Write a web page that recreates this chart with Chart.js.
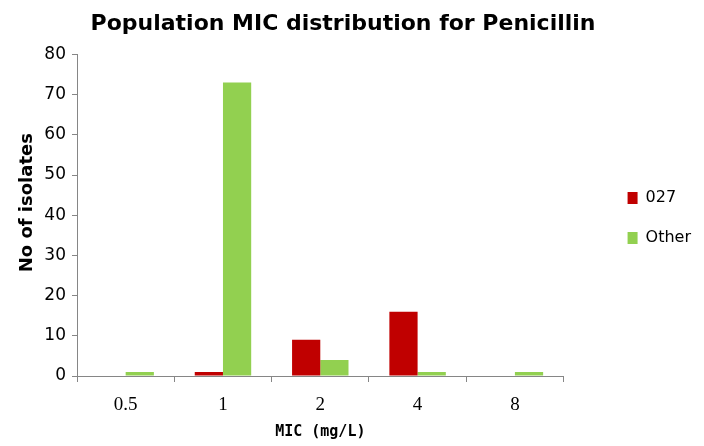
<!DOCTYPE html>
<html>
<head>
<meta charset="utf-8">
<script src="https://cdn.jsdelivr.net/npm/chart.js@4/dist/chart.umd.min.js"></script>
<style>
  html, body { margin: 0; padding: 0; background: #fff; }
  #wrap { width: 704px; height: 446px; }
</style>
</head>
<body>
<div id="wrap"><canvas id="mic"></canvas></div>
<script>
// MIC categories (mg/L) and isolate counts per group
const micLabels = ['0.5', '1', '2', '4', '8'];
const ribotype027 = [0, 1, 9, 16, 0];
const otherIsolates = [1, 73, 4, 1, 1];
const yTicks = [0, 10, 20, 30, 40, 50, 60, 70, 80];

const axisGrey = '#868686';

// title sits a little left of centre, legend a little higher than centred
const nudge = {
  id: 'nudge',
  afterLayout(chart) {
    if (chart.titleBlock) {
      chart.titleBlock.left -= 18;
    }
    if (chart.legend) {
      chart.legend.top -= 5;
      chart.legend.bottom -= 5;
      chart.legend.left -= 3;
      chart.legend.right -= 3;
    }
  }
};

new Chart(document.getElementById('mic'), {
  type: 'bar',
  data: {
    labels: micLabels,
    datasets: [
      { label: '027', data: ribotype027, backgroundColor: '#C00000', yAxisID: 'y' },
      { label: 'Other', data: otherIsolates, backgroundColor: '#92D050', yAxisID: 'y' }
    ]
  },
  options: {
    responsive: true,
    maintainAspectRatio: false,
    animation: false,
    layout: { padding: { left: 0, right: 0, top: 0, bottom: 0 } },
    datasets: {
      bar: { barPercentage: 1, categoryPercentage: 0.58 }
    },
    plugins: {
      title: {
        display: true,
        text: 'Population MIC distribution for Penicillin',
        color: '#000',
        font: { family: 'DejaVu Sans', weight: 'bold', size: 22 },
        padding: { top: 11, bottom: 17 }
      },
      legend: {
        position: 'right',
        labels: {
          boxWidth: 10,
          boxHeight: 12,
          padding: 24,
          color: '#000',
          font: { family: 'DejaVu Sans', size: 16 }
        }
      },
      tooltip: { enabled: false }
    },
    scales: {
      x: {
        grid: { display: true, drawOnChartArea: false, offset: true, color: axisGrey, tickLength: 6 },
        border: { color: axisGrey },
        ticks: { color: '#000', padding: 12, font: { family: 'Liberation Serif', size: 19 } },
        title: {
          display: true,
          text: 'MIC (mg/L)',
          color: '#000',
          font: { family: 'DejaVu Sans Mono', weight: 'bold', size: 15 },
          padding: { top: 0, bottom: 5 }
        },
        afterFit(scale) { scale.height = 70; }
      },
      y: {
        min: 0,
        max: 80,
        afterBuildTicks(scale) { scale.ticks = yTicks.map(v => ({ value: v })); },
        grid: { display: true, drawOnChartArea: false, color: axisGrey, tickLength: 5 },
        border: { color: axisGrey },
        ticks: { color: '#000', padding: 6, font: { family: 'DejaVu Sans', size: 17 } },
        title: {
          display: true,
          text: '    No of isolates',
          color: '#000',
          font: { family: 'DejaVu Sans', weight: 'bold', size: 18 },
          padding: { top: 17, bottom: 0 }
        },
        afterFit(scale) { scale.width = 77; }
      },
      // empty right-hand axis, only keeps a gap before the legend
      gap: {
        type: 'linear',
        position: 'right',
        grid: { display: false },
        border: { display: false },
        ticks: { display: false },
        afterFit(scale) { scale.width = 43; }
      }
    }
  },
  plugins: [nudge]
});
</script>
</body>
</html>
